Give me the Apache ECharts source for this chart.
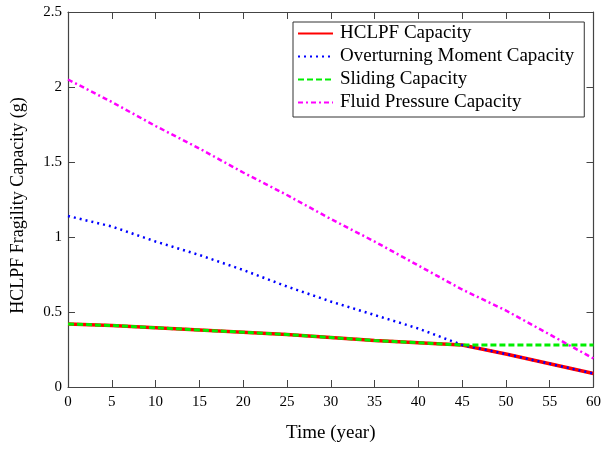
<!DOCTYPE html>
<html>
<head>
<meta charset="utf-8">
<script src="https://cdn.jsdelivr.net/npm/echarts@6/dist/echarts.min.js"></script>
<style>
  html, body { margin: 0; padding: 0; background: #fff; }
  #chart { width: 604px; height: 449px; }
</style>
</head>
<body>
<div id="chart"></div>
<script>
const years = [0, 5, 10, 15, 20, 25, 30, 35, 40, 45, 50, 55, 60]
const hclpf = [0.42, 0.41, 0.395, 0.38, 0.365, 0.35, 0.33, 0.31, 0.295, 0.28, 0.22, 0.155, 0.09]
const overturning = [1.14, 1.07, 0.97, 0.88, 0.78, 0.67, 0.57, 0.48, 0.39, 0.28, 0.22, 0.155, 0.09]
const sliding = [0.42, 0.41, 0.395, 0.38, 0.365, 0.35, 0.33, 0.31, 0.295, 0.28, 0.28, 0.28, 0.28]
const fluid = [2.05, 1.90, 1.74, 1.59, 1.43, 1.28, 1.12, 0.97, 0.81, 0.65, 0.51, 0.35, 0.19]

const font = "'Liberation Serif', 'Times New Roman', serif"
const axisColor = "#444"

const pairs = (ys) => years.map((x, i) => [x, ys[i]])

const mirrorAxis = (extra) => Object.assign({
    type: "value",
    axisLine: { show: true, onZero: false, lineStyle: { color: axisColor, width: 1.2 } },
    axisTick: { show: true, inside: true, length: 7, lineStyle: { color: axisColor } },
    splitLine: { show: false },
}, extra)

const chart = echarts.init(document.getElementById("chart"))

chart.setOption({
    animation: false,
    backgroundColor: "#fff",
    textStyle: { fontFamily: font },
    grid: { left: 68, right: 10, top: 12, bottom: 62 },
    legend: {
        orient: "vertical",
        left: 293,
        top: 22,
        backgroundColor: "#fff",
        borderColor: "#333",
        borderWidth: 1,
        borderRadius: 0,
        padding: [2, 10, 5, 4],
        itemGap: 4,
        itemWidth: 35,
        itemHeight: 14,
        // hide the symbol drawn on the legend line
        itemStyle: { opacity: 0 },
        textStyle: { fontFamily: font, fontSize: 19, color: "#000", lineHeight: 18, padding: [0, 0, 0, 2] },
        data: ["HCLPF Capacity", "Overturning Moment Capacity", "Sliding Capacity", "Fluid Pressure Capacity"]
    },
    xAxis: [
        mirrorAxis({
            min: 0, max: 60, interval: 5,
            name: "Time (year)",
            nameLocation: "middle",
            nameGap: 37,
            nameTextStyle: { fontFamily: font, fontSize: 19, color: "#000" },
            axisLabel: { fontFamily: font, fontSize: 15, color: "#000", margin: 8 }
        }),
        mirrorAxis({
            position: "top",
            min: 0, max: 60, interval: 5,
            axisLabel: { show: false }
        })
    ],
    yAxis: [
        mirrorAxis({
            min: 0, max: 2.5, interval: 0.5,
            name: "HCLPF Fragility Capacity (g)",
            nameLocation: "middle",
            nameGap: 41,
            nameTextStyle: { fontFamily: font, fontSize: 18, color: "#000", padding: [0, 12, 0, 0] },
            axisLabel: { fontFamily: font, fontSize: 15, color: "#000", margin: 6 }
        }),
        mirrorAxis({
            position: "right",
            min: 0, max: 2.5, interval: 0.5,
            axisLabel: { show: false }
        })
    ],
    series: [
        {
            name: "HCLPF Capacity",
            type: "line",
            symbol: "none",
            data: pairs(hclpf),
            lineStyle: { color: "#ff0000", width: 3.5, type: "solid" },
            itemStyle: { color: "#ff0000" }
        },
        {
            name: "Overturning Moment Capacity",
            type: "line",
            symbol: "none",
            data: pairs(overturning),
            lineStyle: { color: "#0000ff", width: 2.5, type: [2, 4] },
            itemStyle: { color: "#0000ff" }
        },
        {
            name: "Sliding Capacity",
            type: "line",
            symbol: "none",
            data: pairs(sliding),
            lineStyle: { color: "#00ee00", width: 3, type: [6, 3] },
            itemStyle: { color: "#00ee00" }
        },
        {
            name: "Fluid Pressure Capacity",
            type: "line",
            symbol: "none",
            data: pairs(fluid),
            lineStyle: { color: "#ff00ff", width: 2.5, type: [5, 3, 2, 3] },
            itemStyle: { color: "#ff00ff" }
        }
    ]
})

window.addEventListener("resize", () => chart.resize())
</script>
</body>
</html>
